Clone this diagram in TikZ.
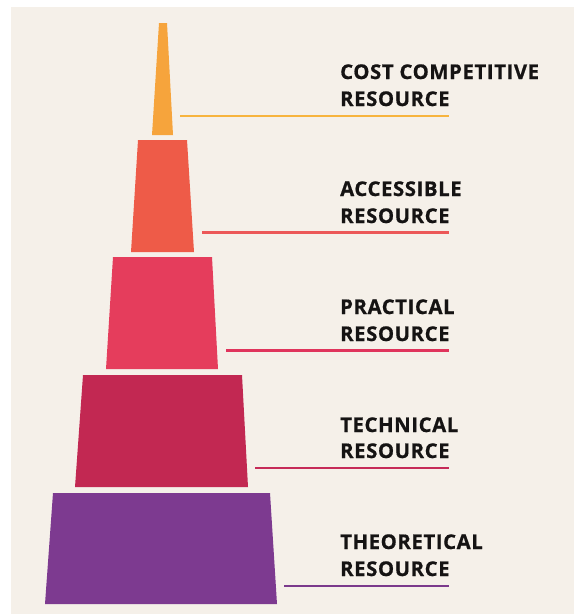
\documentclass[tikz,border=0pt]{standalone}
\usepackage{fontspec}
\setmainfont{Open Sans}
\newfontfamily\lvlfont{Open Sans}[BoldFeatures={FakeBold=0.7}, LetterSpace=3]
\usetikzlibrary{positioning}

\definecolor{paper}{HTML}{F5F0E9}
\definecolor{ink}{HTML}{151313}
\definecolor{costC}{HTML}{F6A43C}
\definecolor{costL}{HTML}{F7B43E}
\definecolor{accC}{HTML}{EE5B48}
\definecolor{accL}{HTML}{EC5858}
\definecolor{pracC}{HTML}{E53D5C}
\definecolor{pracL}{HTML}{E0345C}
\definecolor{techC}{HTML}{C22852}
\definecolor{techL}{HTML}{C62B58}
\definecolor{theoC}{HTML}{7D3A90}
\definecolor{theoL}{HTML}{7B3A8C}

\begin{document}
\begin{tikzpicture}[x=1pt, y=-1pt,
        lvltext/.style={anchor=base west, inner sep=0pt, text=ink,
            font=\lvlfont\bfseries\fontsize{20.3}{27}\selectfont},
        leader/.style={line width=2.6pt, draw=#1}]
        \useasboundingbox (0,0) rectangle (574,614);
        \fill[white] (0,0) rectangle (574,614);
        \fill[paper] (11,7) rectangle (574,614);

        % Cost competitive
        \fill[costC] (159,23) -- (167,23) -- (173,135) -- (152,135) -- cycle;
        \node[lvltext] (cost) at (340,79) {COST COMPETITIVE};
        \node[lvltext] (costres) at (340,106) {RESOURCE};
        \coordinate (costS) at (180,116);
        \coordinate (costE) at (449,116);
        \draw[leader=costL] (costS) -- (costE);

        % Accessible
        \fill[accC] (138,140) -- (187,140) -- (194,252) -- (131,252) -- cycle;
        \node[lvltext] (acc) at (340,196) {ACCESSIBLE};
        \node[lvltext] (accres) at (340,223) {RESOURCE};
        \coordinate (accS) at (202,232.5);
        \coordinate (accE) at (449,232.5);
        \draw[leader=accL] (accS) -- (accE);

        % Practical
        \fill[pracC] (113,257) -- (212,257) -- (218,369) -- (106,369) -- cycle;
        \node[lvltext] (prac) at (340,314) {PRACTICAL};
        \node[lvltext] (pracres) at (340,341) {RESOURCE};
        \coordinate (pracS) at (226,350.5);
        \coordinate (pracE) at (449,350.5);
        \draw[leader=pracL] (pracS) -- (pracE);

        % Technical
        \fill[techC] (83,375) -- (242,375) -- (248,487) -- (75,487) -- cycle;
        \node[lvltext] (tech) at (340,432) {TECHNICAL};
        \node[lvltext] (techres) at (340,458) {RESOURCE};
        \coordinate (techS) at (255,468);
        \coordinate (techE) at (449,468);
        \draw[leader=techL] (techS) -- (techE);

        % Theoretical
        \fill[theoC] (53,493) -- (270,493) -- (277,604) -- (45,604) -- cycle;
        \node[lvltext] (theo) at (340,549) {THEORETICAL};
        \node[lvltext] (theores) at (340,576) {RESOURCE};
        \coordinate (theoS) at (284,586);
        \coordinate (theoE) at (449,586);
        \draw[leader=theoL] (theoS) -- (theoE);
    \end{tikzpicture}
\end{document}
